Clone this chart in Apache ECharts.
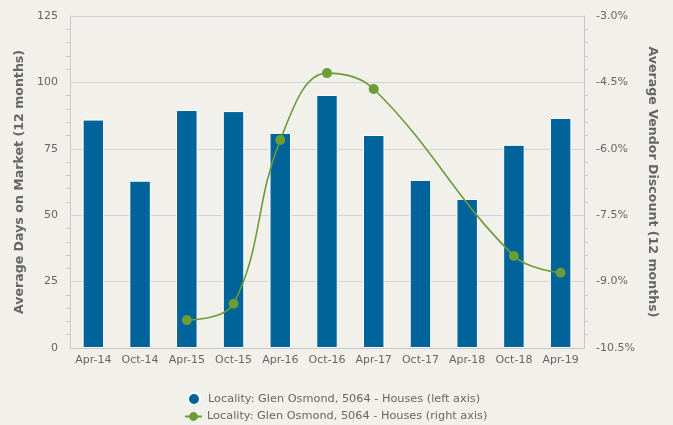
<!DOCTYPE html>
<html>
<head>
<meta charset="utf-8">
<script src="https://cdn.jsdelivr.net/npm/echarts@6/dist/echarts.min.js"></script>
<style>
html,body{margin:0;padding:0;background:#f1f0eb;}
#chart{width:673px;height:425px;}
</style>
</head>
<body>
<div id="chart"></div>
<script>
var categories=['Apr-14','Oct-14','Apr-15','Oct-15','Apr-16','Oct-16','Apr-17','Oct-17','Apr-18','Oct-18','Apr-19'];
// days on market (left axis)
var daysOnMarket=[86,63,89.6,89.2,81,95.3,80.2,63.3,56.1,76.5,86.6];
// vendor discount % (right axis), no value for Oct-17 / Apr-18
var vendorDiscount=[null,null,-9.87,-9.5,-5.8,-4.29,-4.65,null,null,-8.42,-8.8];
var leftTicks={min:0,max:125,interval:25};
var rightTicks={min:-10.5,max:-3,interval:1.5};
var barName='Locality: Glen Osmond, 5064 - Houses (left axis)';
var lineName='Locality: Glen Osmond, 5064 - Houses (right axis)';

var myChart=echarts.init(document.getElementById('chart'),null,{renderer:'canvas'});
var txt='#666666';
var font='DejaVu Sans';
var option={
	backgroundColor:'#f1f0eb',
	animation:false,
	textStyle:{fontFamily:font},
	grid:{left:70,right:89,top:16,bottom:77},
	//两个图例各占一行
	legend:[{
		left:187,
		top:392,
		padding:0,
		itemWidth:12,
		itemHeight:12,
		textStyle:{color:txt,fontSize:11.3,fontFamily:font,padding:[0,0,0,3]},
		data:[{name:barName,icon:'circle'}]
	},{
		left:184,
		top:411,
		padding:0,
		itemWidth:17,
		itemHeight:11,
		textStyle:{color:txt,fontSize:11.3,fontFamily:font},
		data:[{name:lineName}]
	}],
	xAxis:[{
		type:'category',
		data:categories,
		axisLine:{lineStyle:{color:'#c8c8c8'}},
		axisTick:{alignWithLabel:true,length:6,lineStyle:{color:'#c8d6e5'}},
		axisLabel:{color:txt,fontSize:11,margin:7,interval:0}
	}],
	yAxis:[{
		type:'value',
		min:leftTicks.min,max:leftTicks.max,interval:leftTicks.interval,
		name:'Average Days on Market (12 months)',
		nameLocation:'middle',
		nameGap:41,
		nameTextStyle:{color:txt,fontSize:12.6,fontWeight:'bold'},
		axisLine:{show:true,lineStyle:{color:'#c8c8c8'}},
		axisTick:{show:false},
		minorTick:{show:true,splitNumber:5,length:4,lineStyle:{color:'#c8c8c8'}},
		splitLine:{lineStyle:{color:'#d3d3d3'}},
		axisLabel:{color:txt,fontSize:11,margin:12}
	},{
		type:'value',
		position:'right',
		min:rightTicks.min,max:rightTicks.max,interval:rightTicks.interval,
		name:'Average Vendor Discount (12 months)',
		nameLocation:'middle',
		nameGap:61,
		nameRotate:-90,
		nameTextStyle:{color:txt,fontSize:12.6,fontWeight:'bold'},
		axisLine:{show:true,lineStyle:{color:'#c8c8c8'}},
		axisTick:{show:false},
		minorTick:{show:true,splitNumber:5,length:4,lineStyle:{color:'#c8c8c8'}},
		splitLine:{show:false},
		axisLabel:{color:txt,fontSize:11,margin:12,formatter:function(v){return v.toFixed(1)+'%';}}
	}],
	series:[{
		name:barName,
		type:'bar',
		yAxisIndex:0,
		barWidth:'46%',
		itemStyle:{color:'#00649a',borderColor:'#ffffff',borderWidth:1},
		data:daysOnMarket
	},{
		name:lineName,
		type:'line',
		yAxisIndex:1,
		smooth:0.4,
		connectNulls:true,
		symbol:'circle',
		symbolSize:10,
		lineStyle:{color:'#6c9c35',width:1.6},
		itemStyle:{color:'#6c9c35'},
		data:vendorDiscount
	}]
};
myChart.setOption(option);
</script>
</body>
</html>
